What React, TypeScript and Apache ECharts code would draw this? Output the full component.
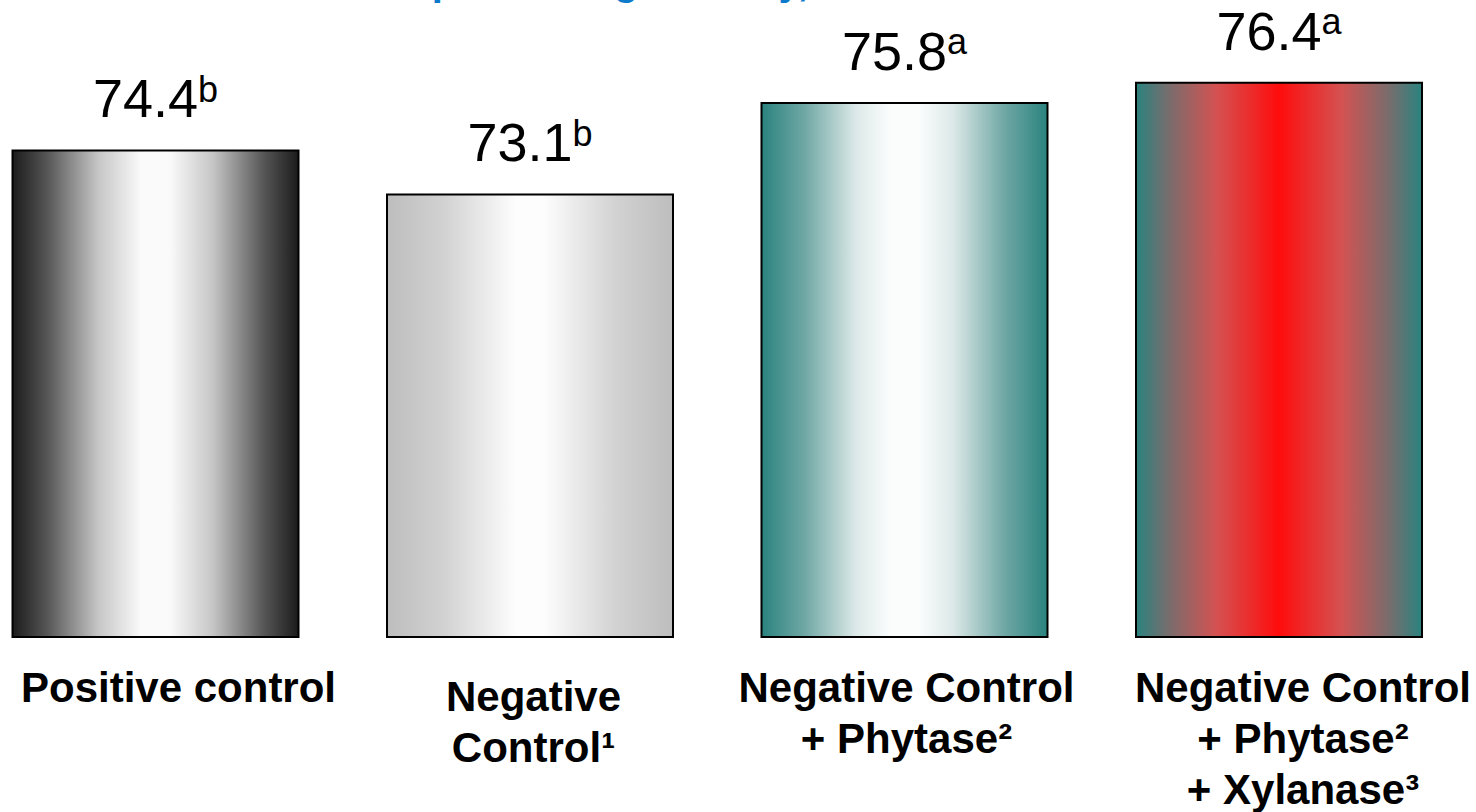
import React, { useEffect, useRef } from 'react';
import * as echarts from 'echarts';

// Treatments, mean phosphorus digestibility (%) and significance letters
const categories = [
  'Positive control',
  'Negative\nControl¹',
  'Negative Control\n+ Phytase²',
  'Negative Control\n+ Phytase²\n+ Xylanase³',
];
const digestibility = [74.4, 73.1, 75.8, 76.4];
const significance = ['b', 'b', 'a', 'a'];
const titleText = 'Phosphorus digestibility, %';

const FONT = '"Liberation Sans", Arial, Helvetica, sans-serif';

// The chart canvas is slightly wider than the page and shifted left,
// so the outer category bands run past the page edges.
const SHIFT = 32;

// Horizontal "cylinder" shading for each bar
const barShades: [number, string][][] = [
  [
    [0, '#1b1b1b'], [0.12, '#555555'], [0.3, '#c6c6c6'], [0.45, '#fafafa'],
    [0.55, '#fafafa'], [0.7, '#c6c6c6'], [0.88, '#555555'], [1, '#1b1b1b'],
  ],
  [
    [0, '#bdbdbd'], [0.2, '#d2d2d2'], [0.45, '#fdfdfd'], [0.55, '#fdfdfd'],
    [0.8, '#d2d2d2'], [1, '#bdbdbd'],
  ],
  [
    [0, '#2a837f'], [0.15, '#6fa7a4'], [0.33, '#dce9e8'], [0.45, '#fbfdfd'],
    [0.55, '#fbfdfd'], [0.67, '#dce9e8'], [0.85, '#6fa7a4'], [1, '#2a837f'],
  ],
  [
    [0, '#2a837f'], [0.12, '#7b6c6c'], [0.28, '#d45252'], [0.5, '#ff0c0c'],
    [0.72, '#d45252'], [0.88, '#7b6c6c'], [1, '#2a837f'],
  ],
];

// Per-label padding (top/right/bottom/left) that nudges each caption
const labelPads = [
  [0, 0, 0, 46],
  [9, 0, 0, 7],
  [0, 0, 0, 4],
  [0, 0, 0, 48],
];

function shade(stops: [number, string][]) {
  return new echarts.graphic.LinearGradient(
    0, 0, 1, 0,
    stops.map(([offset, color]) => ({ offset, color }))
  );
}

export default function App() {
  const ref = useRef<HTMLDivElement>(null);

  useEffect(() => {
    document.body.style.margin = '0';
    if (!ref.current) return;
    const chart = echarts.init(ref.current, null, { renderer: 'svg' });

    chart.setOption({
      animation: false,
      backgroundColor: '#ffffff',
      graphic: [
        {
          type: 'text',
          x: 334 + SHIFT,
          y: -19,
          style: {
            text: titleText,
            font: `bold 40px ${FONT}`,
            fill: '#0d7bcb',
            verticalAlign: 'middle',
            align: 'left',
          },
        },
      ],
      grid: {
        left: 0.25,
        top: 27.5,
        width: 1498,
        height: 609.5,
        outerBoundsMode: 'none',
        containLabel: false,
      },
      xAxis: {
        type: 'category',
        data: categories.map((c, i) => ({
          value: c,
          textStyle: { padding: labelPads[i] },
        })),
        axisLine: { show: false },
        axisTick: { show: false },
        splitLine: { show: false },
        axisLabel: {
          interval: 0,
          margin: 25,
          color: '#000000',
          fontFamily: FONT,
          fontWeight: 'bold',
          fontSize: 42,
          lineHeight: 51,
          hideOverlap: false,
        },
      },
      yAxis: {
        type: 'value',
        min: 60,
        max: 78,
        show: false,
        splitLine: { show: false },
      },
      series: [
        {
          type: 'bar',
          barWidth: 288,
          data: digestibility.map((v, i) => ({
            value: v,
            itemStyle: { color: shade(barShades[i]) },
          })),
          itemStyle: { borderColor: '#000000', borderWidth: 2 },
          label: {
            show: true,
            position: 'top',
            distance: 24,
            formatter: (p: any) =>
              `{v|${Number(p.value).toFixed(1)}}{s|${significance[p.dataIndex]}}`,
            rich: {
              v: { fontFamily: FONT, fontSize: 54, lineHeight: 54, color: '#000000' },
              s: {
                fontFamily: FONT,
                fontSize: 36,
                lineHeight: 30,
                verticalAlign: 'top',
                color: '#000000',
              },
            },
          },
        },
      ],
    });

    return () => chart.dispose();
  }, []);

  return (
    <div style={{ width: 1476, height: 812, overflow: 'hidden', position: 'relative' }}>
      <div
        ref={ref}
        style={{ position: 'absolute', left: -SHIFT, top: 0, width: 1476 + 2 * SHIFT, height: 812 }}
      />
    </div>
  );
}
